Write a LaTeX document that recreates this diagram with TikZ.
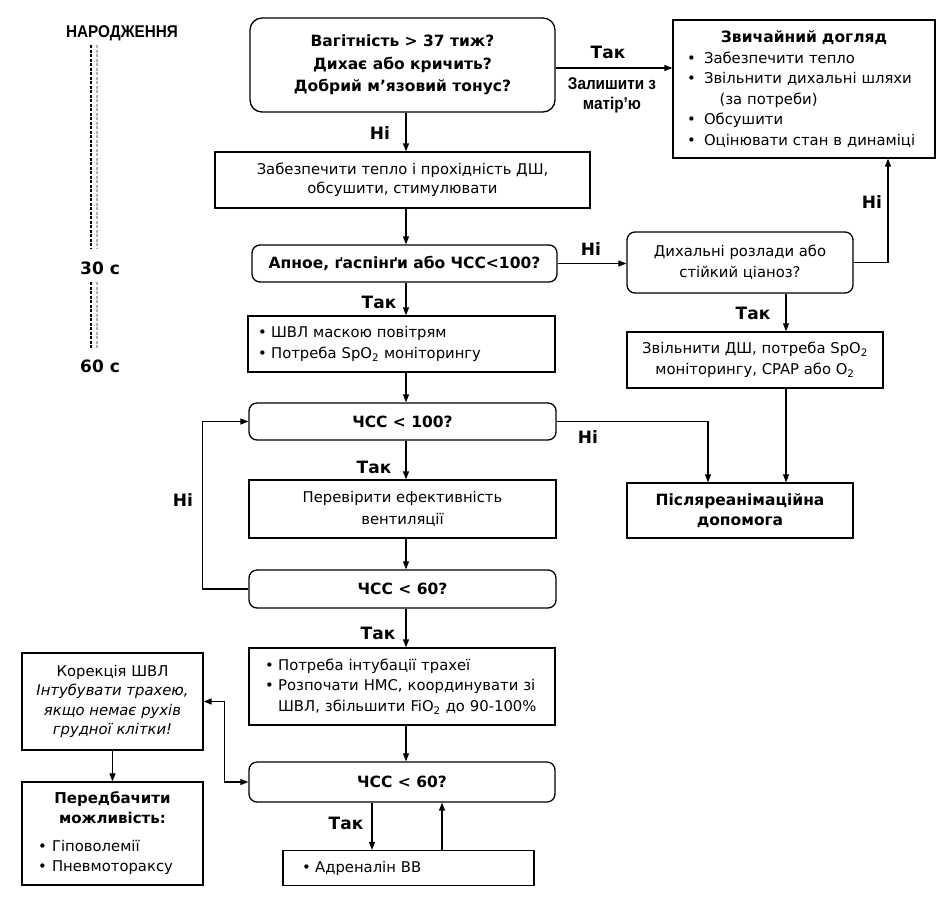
\documentclass[tikz,border=0pt]{standalone}
\usepackage{fontspec}
\setmainfont{DejaVu Sans}
\newfontfamily\narrowf[FakeStretch=0.9]{Liberation Sans}
\usetikzlibrary{arrows.meta}
\setlength\parindent{0pt}
\newcommand\bul{\makebox[1.15em][l]{•}}
\newcommand\sbul{•\hspace{0.3em}}
\begin{document}
\begin{tikzpicture}[x=1pt,y=-1pt,
  every node/.style={font=\fontsize{14.8}{20.5}\selectfont, inner sep=0pt},
  box/.style={draw, line width=1.3pt, align=center},
  rbox/.style={box, rounded corners=8pt},
  arr/.style={line width=1.1pt, -{Triangle[length=8pt,width=6pt]}},
  lab/.style={font=\fontsize{17}{19}\selectfont\bfseries},
  bx/.style={font=\fontsize{15.5}{20}\selectfont\bfseries},
  tl/.style={line width=1.5pt, dash pattern=on 3pt off 1.5pt}
]
\useasboundingbox (0,0) rectangle (952,902);

% timeline
\node[font=\narrowf\fontsize{17}{20}\selectfont\bfseries] (birth) at (122,33) {НАРОДЖЕННЯ};
\node[lab] (t30) at (100,268) {30 с};
\node[lab] (t60) at (100,366) {60 с};
\draw[tl, black] (91,45) -- (91,248);
\draw[tl, black!30] (97,45) -- (97,248);
\draw[tl, black] (91,282) -- (91,348);
\draw[tl, black!30] (97,282) -- (97,348);

% main column
\coordinate (col) at (406,0);
\node[rbox, rounded corners=12pt, minimum width=305pt, minimum height=94pt, font=\fontsize{15.5}{22.5}\selectfont\bfseries] (q1) at (402.5,65)
  {Вагітність > 37 тиж?\\Дихає або кричить?\\Добрий м’язовий тонус?};
\node[box, minimum width=375pt, minimum height=56pt, font=\fontsize{14.8}{18.5}\selectfont] (warm) at (402.5,180)
  {Забезпечити тепло і прохідність ДШ,\\обсушити, стимулювати};
\node[rbox, bx, minimum width=305pt, minimum height=37pt] (apnoe) at (404.5,263.5)
  {Апное, ґаспінґи або ЧСС<100?};
\node[box, minimum width=307pt, minimum height=56pt, align=left, text width=287pt, inner xsep=10pt, font=\fontsize{14.8}{21}\selectfont] (vent) at (401.5,344)
  {\sbul ШВЛ маскою повітрям\\\sbul Потреба SpO\textsubscript{2} моніторингу};
\node[rbox, bx, minimum width=307pt, minimum height=37pt] (hr100) at (402.5,421.5) {ЧСС < 100?};
\node[box, minimum width=307pt, minimum height=58pt, font=\fontsize{14.8}{21.5}\selectfont] (check) at (402.5,509)
  {Перевірити ефективність\\вентиляції};
\node[rbox, bx, minimum width=307pt, minimum height=38pt] (hr60a) at (402.5,589) {ЧСС < 60?};
\node[box, minimum width=306pt, minimum height=77pt, align=left, text width=274pt, inner xsep=16pt] (intub) at (402,686.5)
  {\sbul Потреба інтубації трахеї\\\sbul Розпочати НМС, координувати зі\\\phantom{\sbul}ШВЛ, збільшити FiO\textsubscript{2} до 90-100\%};
\node[rbox, bx, minimum width=306pt, minimum height=40pt] (hr60b) at (402,782) {ЧСС < 60?};
\node[box, minimum width=251pt, minimum height=35pt, align=left, text width=213pt, inner xsep=19pt] (adr) at (408.5,868)
  {\sbul Адреналін ВВ};

% right column
\node[box, minimum width=262pt, minimum height=138pt, text width=234pt, inner xsep=14pt] (care) at (804,89)
  {\centering{\fontsize{15.5}{20.5}\selectfont\bfseries Звичайний догляд}\par\raggedright
   \bul Забезпечити тепло\par
   \bul Звільнити дихальні шляхи\par
   \hspace*{2.2em}(за потреби)\par
   \bul Обсушити\par
   \bul Оцінювати стан в динаміці\par};
\node[rbox, minimum width=226pt, minimum height=61pt] (resp) at (740,262.5)
  {Дихальні розлади або\\стійкий ціаноз?};
\node[box, minimum width=256pt, minimum height=56pt, font=\fontsize{14.8}{21}\selectfont] (clear) at (755,360)
  {Звільнити ДШ, потреба SpO\textsubscript{2}\\моніторингу, CPAP або O\textsubscript{2}};
\node[box, bx, minimum width=226pt, minimum height=55pt] (post) at (740,510.5)
  {Післяреанімаційна\\допомога};

% left column
\node[box, minimum width=181pt, minimum height=97pt, font=\fontsize{14.8}{19.5}\selectfont] (corr) at (112.5,701.5)
  {Корекція ШВЛ\\\textit{Інтубувати трахею,}\\\textit{якщо немає рухів}\\\textit{грудної клітки!}};
\node[box, minimum width=181pt, minimum height=103pt, text width=149pt, inner xsep=16pt] (cons) at (112.5,833.5)
  {\centering{\fontsize{15}{20}\selectfont\bfseries Передбачити\par можливість:\par}\vspace{7pt}\raggedright
   \makebox[0.95em][l]{•}Гіповолемії\par
   \makebox[0.95em][l]{•}Пневмотораксу\par};

% connectors
\coordinate (ky) at (0,68);
\draw[arr] (q1.east |- ky) -- (care.west |- ky);
\node[lab] (lyes1) at (608,52) {Так};
\node[font=\narrowf\fontsize{17}{20}\selectfont\bfseries, align=center] (lstay) at (612,95) {Залишити з\\матір’ю};

\draw[arr] (q1.south -| col) -- (warm.north -| col);
\node[lab] (lno1) at (380,133) {Ні};
\draw[arr] (warm.south -| col) -- (apnoe.north -| col);
\draw[arr] (apnoe.east) -- (resp.west |- apnoe.east);
\node[lab] (lno2) at (591,249) {Ні};
\draw[arr] (apnoe.south -| col) -- (vent.north -| col);
\node[lab] (lyes2) at (379,302) {Так};
\draw[arr] (vent.south -| col) -- (hr100.north -| col);
\draw[arr] (hr100.south -| col) -- (check.north -| col);
\node[lab] (lyes3) at (374,467) {Так};
\draw[arr] (check.south -| col) -- (hr60a.north -| col);
\draw[arr] (hr60a.south -| col) -- (intub.north -| col);
\node[lab] (lyes4) at (378,633) {Так};
\draw[arr] (intub.south -| col) -- (hr60b.north -| col);
\draw[arr] (hr60a.west) -- ++(-46,0) |- (hr100.west);
\node[lab] (lno3) at (183,500) {Ні};
\draw[arr] (hr100.east) -| ([xshift=-32pt]post.north);
\node[lab] (lno4) at (588,437) {Ні};

\coordinate (c2) at (786,0);
\draw[arr] (resp.south -| c2) -- (clear.north -| c2);
\node[lab] (lyes5) at (753,313) {Так};
\draw[arr] (clear.south -| c2) -- (post.north -| c2);
\coordinate (c3) at (888,0);
\draw[arr] (resp.east) -| (care.south -| c3);
\node[lab] (lno5) at (872,202) {Ні};

\coordinate (c7) at (372,0);
\coordinate (c8) at (442,0);
\draw[arr] (hr60b.south -| c7) -- (adr.north -| c7);
\node[lab] (lyes6) at (346,823) {Так};
\draw[arr] (adr.north -| c8) -- (hr60b.south -| c8);

\draw[line width=1.1pt, {Triangle[length=8pt,width=6pt]}-{Triangle[length=8pt,width=6pt]}]
  (corr.east) -| ([xshift=-24pt]hr60b.west) -- (hr60b.west);
\draw[arr] (corr.south) -- (cons.north);
\end{tikzpicture}
\end{document}
